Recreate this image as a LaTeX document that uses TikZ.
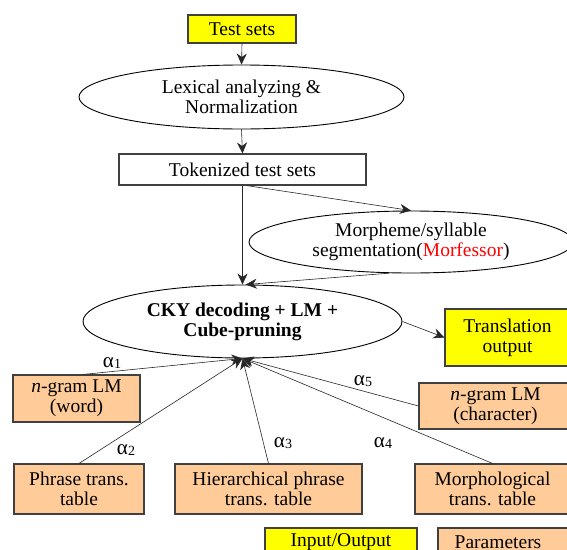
\documentclass[tikz,border=0pt]{standalone}
\usepackage{fontspec}
\setmainfont{Liberation Serif}
\usetikzlibrary{shapes.geometric,arrows.meta,calc}
\definecolor{ioyellow}{RGB}{255,255,0}
\definecolor{peach}{RGB}{255,204,153}
\definecolor{edgegray}{RGB}{64,64,64}
\newcommand{\alsub}[1]{α\kern0.3pt\raisebox{-1.5pt}{\fontsize{14}{14}\selectfont #1}}
\tikzset{
  every node/.style={font=\fontsize{19.5}{20}\selectfont, inner sep=0pt, align=center},
  box/.style={draw=edgegray, line width=1.1pt, rectangle},
  iobox/.style={box, fill=ioyellow},
  parbox/.style={box, fill=peach},
  plainbox/.style={box, fill=white},
  proc/.style={draw=black, line width=0.9pt, ellipse, fill=white},
  conn/.style={draw=black!85, line width=0.6pt, -{Stealth[length=11pt,width=10pt,inset=3.5pt]}},
  alab/.style={font=\fontsize{21}{21}\selectfont}
}
\begin{document}
\begin{tikzpicture}[x=1pt,y=-1pt]
\useasboundingbox (0,0) rectangle (567,549);
\clip (0,0) rectangle (567,549);
% nodes
\node[iobox, minimum width=108pt, minimum height=28pt] (test) at (242,29) {Test sets};
\node[proc, minimum width=325pt, minimum height=64pt] (lex) at (241.5,97) {Lexical analyzing \&\\Normalization};
\node[plainbox, minimum width=247pt, minimum height=31pt] (tok) at (242.5,169.5) {Tokenized test sets};
\node[proc, minimum width=324pt, minimum height=62pt] (morph) at (411,242) {Morpheme/syllable\\segmentation(\textcolor{red}{Morfessor})};
\node[proc, minimum width=319pt, minimum height=73pt, font=\fontsize{19.5}{20}\selectfont\bfseries] (cky) at (242.5,321.5) {CKY decoding + LM +\\Cube-pruning};
\node[iobox, minimum width=125pt, minimum height=57pt] (trans) at (507.5,337.5) {Translation\\output};
\node[parbox, minimum width=127pt, minimum height=47pt] (ngw) at (76.5,398.5) {\textit{n}-gram LM\\(word)};
\node[parbox, minimum width=153pt, minimum height=46pt] (ngc) at (495.5,406) {\textit{n}-gram LM\\(character)};
\node[parbox, minimum width=130pt, minimum height=50pt] (phrase) at (79,489) {Phrase trans.\\table};
\node[parbox, minimum width=187pt, minimum height=50pt] (hier) at (268.5,489) {Hierarchical phrase\\trans. table};
\node[parbox, minimum width=155pt, minimum height=50pt] (mtab) at (492.5,489) {Morphological\\trans. table};
\node[iobox, minimum width=152pt, minimum height=28pt] (io) at (341,542) {Input/Output};
\node[parbox, minimum width=132pt, minimum height=28pt] (par) at (504,542) {Parameters\hspace{12pt}};
% connectors
\draw[conn] (test.south) -- (lex.north);
\draw[conn] (lex.south) -- (tok.north);
\draw[conn] (tok.south) -- (cky.north);
\draw[conn] ($(tok.south)+(4,0)$) -- (morph.north);
\draw[conn] (morph.235) -- (cky.85);
\draw[conn] (cky.east) -- (trans.west);
\draw[conn] ($(ngw.north)+(6.5,0)$) -- (cky.south);
\draw[conn] (phrase.north) -- (cky.south);
\draw[conn] (hier.north) -- (cky.south);
\draw[conn] (mtab.north) -- (cky.south);
\draw[conn] (ngc.west) -- (cky.south);
% weight labels
\node[alab] (a1) at (112,363) {\alsub{1}};
\node[alab] (a2) at (126,450) {\alsub{2}};
\node[alab] (a3) at (283,443) {\alsub{3}};
\node[alab] (a4) at (383,443) {\alsub{4}};
\node[alab] (a5) at (363,381) {\alsub{5}};
\end{tikzpicture}
\end{document}
